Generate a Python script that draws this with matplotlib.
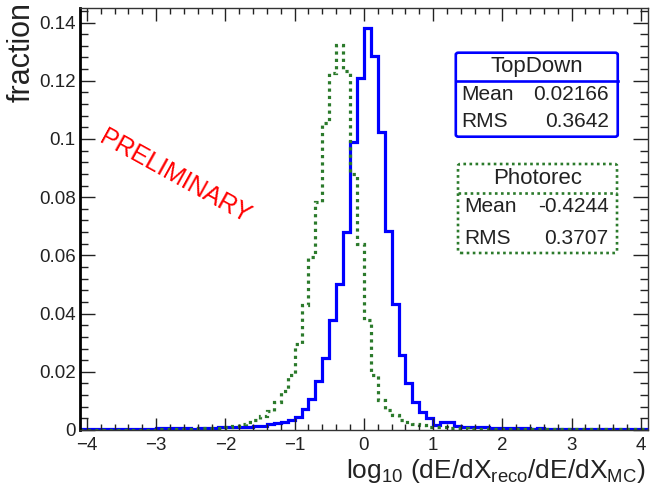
import numpy as np
import matplotlib
matplotlib.use("Agg")
import matplotlib.pyplot as plt
from matplotlib.patches import FancyBboxPatch
from matplotlib.lines import Line2D
from matplotlib.ticker import MultipleLocator

plt.rcParams['font.family'] = ['Liberation Sans', 'DejaVu Sans']
plt.rcParams['mathtext.fontset'] = 'custom'
plt.rcParams['mathtext.rm'] = 'Liberation Sans'
plt.rcParams['mathtext.it'] = 'Liberation Sans'
plt.rcParams['mathtext.default'] = 'regular'

# binning: 0.1 wide bins from -4.1 to 4.1
bin_edges = np.round(np.linspace(-4.1, 4.1, 83), 2)

# fraction per bin
topdown = [
    0.0002, 0.0002, 0.0002, 0.0002, 0.0002, 0.0002, 0.0002, 0.0002, 0.0002, 0.0002, 0.0002,
    0.0006, 0.0006, 0.0006, 0.0006, 0.0006,
    0.0002,
    0.0006, 0.0007, 0.0008, 0.0009, 0.0010, 0.0010, 0.0011, 0.0012, 0.0013,
    0.0015, 0.0020, 0.0025, 0.0029, 0.0036, 0.0045,
    0.0071, 0.0106, 0.0170, 0.0246, 0.0377, 0.0503, 0.0680, 0.0989, 0.1210,
    0.1380, 0.1286, 0.1023, 0.0684, 0.0434, 0.0256, 0.0163, 0.0095, 0.0061, 0.0040,
    0.0018, 0.0029, 0.0029, 0.0014,
    0.0012, 0.0011, 0.0010, 0.0009, 0.0008,
    0.0007, 0.0006, 0.0007, 0.0006, 0.0006, 0.0005, 0.0006, 0.0005, 0.0005,
    0.0003, 0.0003, 0.0003, 0.0003, 0.0003, 0.0003, 0.0003, 0.0003, 0.0003, 0.0003, 0.0003, 0.0003, 0.0003,
]
photorec = [
    0.0001, 0.0001, 0.0001, 0.0001, 0.0001, 0.0001, 0.0001, 0.0001, 0.0001, 0.0001, 0.0001,
    0.0003, 0.0003, 0.0004, 0.0004, 0.0005, 0.0005, 0.0006, 0.0006, 0.0007, 0.0008,
    0.0010, 0.0014, 0.0019, 0.0026, 0.0035,
    0.0048, 0.0065, 0.0095, 0.0135,
    0.0189, 0.0297, 0.0429, 0.0594, 0.0783, 0.1055, 0.1226, 0.1324, 0.1235, 0.0881, 0.0640,
    0.0377, 0.0189, 0.0103, 0.0069, 0.0051, 0.0036, 0.0027, 0.0020, 0.0016, 0.0012,
    0.0010, 0.0009, 0.0008, 0.0007, 0.0006,
    0.0005, 0.0005, 0.0004, 0.0004, 0.0004, 0.0003, 0.0003, 0.0003, 0.0003, 0.0002,
    0.0002, 0.0002, 0.0002, 0.0002, 0.0002, 0.0002, 0.0002, 0.0002,
    0.0002, 0.0002, 0.0002, 0.0002, 0.0002, 0.0002, 0.0002, 0.0002,
]

stats = {
    "TopDown": ("0.02166", "0.3642"),
    "Photorec": ("-0.4244", "0.3707"),
}

blue = "#0000ff"
green = "#2b7a2b"

fig = plt.figure(figsize=(6.53, 5.0), dpi=100)
ax = fig.add_axes([0.1225, 0.14, 0.8695, 0.844])

ax.stairs(topdown, bin_edges, color=blue, lw=2.3)
ax.stairs(photorec, bin_edges, color=green, lw=2.3, linestyle=(0, (1, 1.3)))

ax.set_xlim(-4.1, 4.1)
ax.set_ylim(0, 0.145)
ax.xaxis.set_major_locator(MultipleLocator(1))
ax.xaxis.set_minor_locator(MultipleLocator(0.2))
ax.yaxis.set_major_locator(MultipleLocator(0.02))
ax.yaxis.set_minor_locator(MultipleLocator(0.004))
ax.yaxis.set_major_formatter(plt.FuncFormatter(lambda v, p: "0" if abs(v) < 1e-9 else f"{v:g}"))
ax.tick_params(axis='both', which='both', direction='in', top=True, right=True,
               labelsize=13.5, colors='#222222', labelcolor='#222222')
ax.tick_params(axis='x', which='major', length=9, width=1, pad=5)
ax.tick_params(axis='x', which='minor', length=4.5, width=1)
ax.tick_params(axis='y', which='major', length=11, width=1, pad=3)
ax.tick_params(axis='y', which='minor', length=5.5, width=1)
for s in ax.spines.values():
    s.set_linewidth(1)
    s.set_color('#333333')
ax.spines['left'].set_linewidth(2)
ax.spines['left'].set_color('black')

fig.text(0.988, 0.03, r"log$_{10}$ (dE/dX$_{reco}$/dE/dX$_{MC}$)", ha='right', va='bottom',
         fontsize=19, color='#222222')
fig.text(0.033, 0.995, "fraction", rotation=90, ha='center', va='top', fontsize=22, color='#222222')

fig.text(0.268, 0.646, "PRELIMINARY", rotation=-29, ha='center', va='center',
         fontsize=18, color='red', rotation_mode='anchor')


def stat_box(name, x0, x1, y0, y1, ysep, color, ls, ytit, ymean, yrms):
    box = FancyBboxPatch((x0, y0), x1 - x0, y1 - y0, boxstyle="round,pad=0,rounding_size=0.004",
                         transform=fig.transFigure, fill=False, edgecolor=color, lw=1.9, linestyle=ls)
    fig.patches.append(box)
    fig.lines.append(Line2D([x0, x1], [ysep, ysep], transform=fig.transFigure, color=color, lw=1.9, linestyle=ls))
    mean, rms = stats[name]
    fig.text((x0 + x1) / 2, ytit, name, ha='center', va='center', fontsize=16, color='#222222')
    fig.text(x0 + 0.009, ymean, "Mean", ha='left', va='center', fontsize=15, color='#222222')
    fig.text(x1 - 0.013, ymean, mean, ha='right', va='center', fontsize=15, color='#222222')
    fig.text(x0 + 0.009, yrms, "RMS", ha='left', va='center', fontsize=15, color='#222222')
    fig.text(x1 - 0.013, yrms, rms, ha='right', va='center', fontsize=15, color='#222222')


stat_box("TopDown", 0.698, 0.946, 0.7266, 0.8946, 0.8386, blue, '-', 0.8666, 0.81, 0.7566)
stat_box("Photorec", 0.7014, 0.9449, 0.494, 0.672, 0.6146, green, (0, (1, 1.3)), 0.644, 0.5866, 0.524)

fig.savefig("out.png", dpi=100)
